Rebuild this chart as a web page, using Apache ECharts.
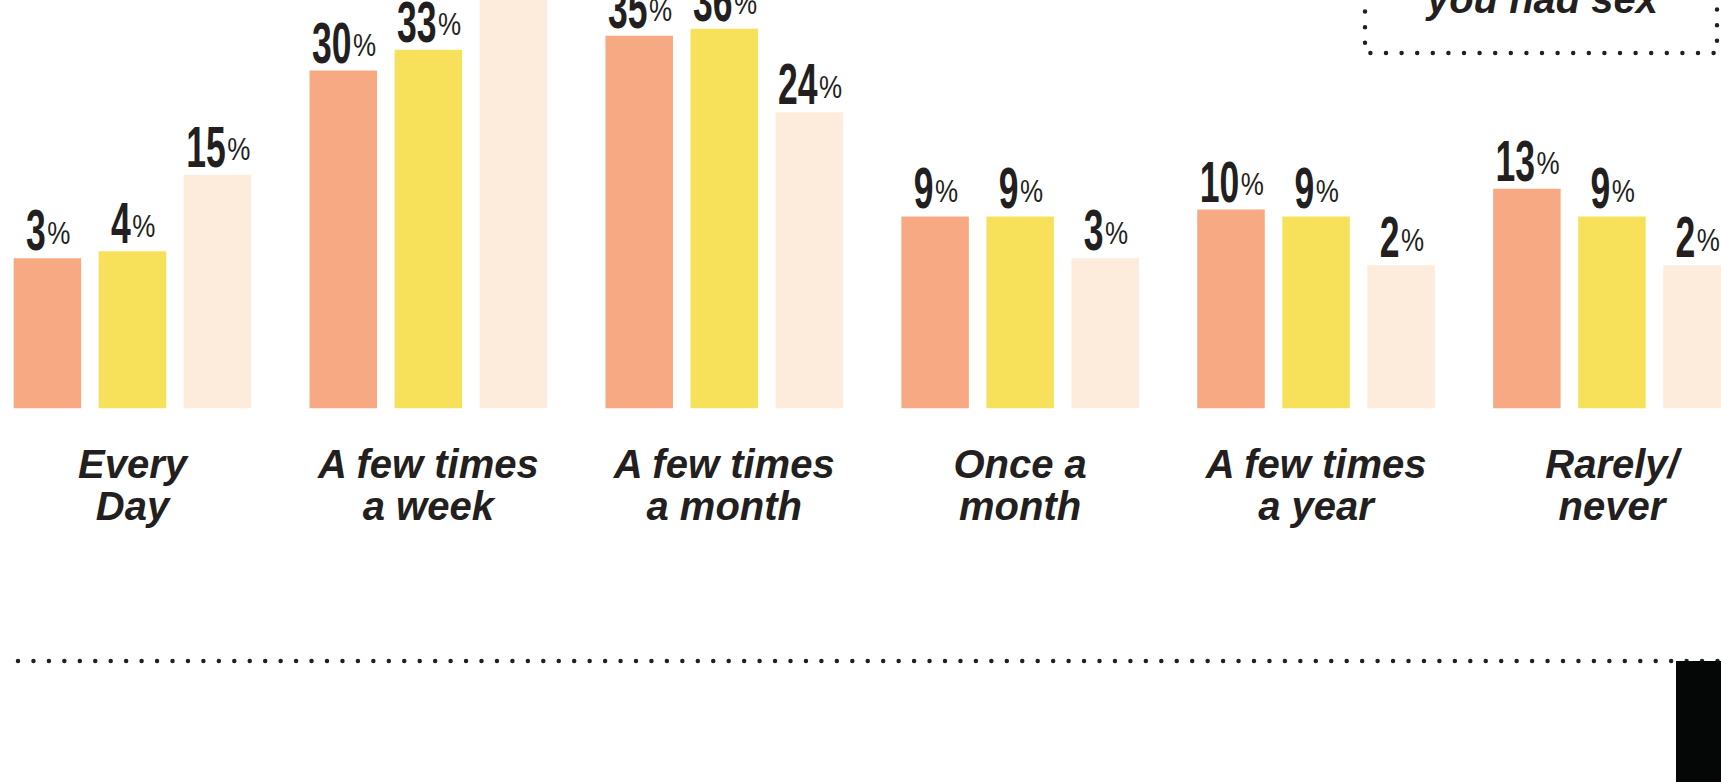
<!DOCTYPE html>
<html><head><meta charset="utf-8">
<script src="https://cdn.jsdelivr.net/npm/echarts@6/dist/echarts.min.js"></script>
<style>html,body{margin:0;padding:0;background:#fff}#c{width:1721px;height:782px}</style>
</head><body><div id="c"></div>
<script>
// ---- data ----
const categories = ['Every\nDay', 'A few times\na week', 'A few times\na month', 'Once a\nmonth', 'A few times\na year', 'Rarely/\nnever'];
const seriesNames = ['Group 1', 'Group 2', 'Group 3'];
const group1 = [3, 30, 35, 9, 10, 13];
const group2 = [4, 33, 36, 9, 9, 9];
const group3 = [15, 54, 24, 3, 2, 2];
const boxTitle = 'you had sex';

// ---- styling ----
const colors = ['#F7A983', '#F7E15B', '#FDEBDB'];
const ink = '#231F20';
const BASE = 18.6;        // the infographic's bars start from a visual floor
const Y_MAX = 58.75;
const BAR_W = 67.5;
const BAR_GAP = 0.26;
const numFont = "'Liberation Sans', Arial, Helvetica, sans-serif";
const txtFont = "'Liberation Sans', Arial, Helvetica, sans-serif";
const NUM_FS = 35.5, NUM_SY = 1.6, PCT_FS = 26, PCT_SY = 1.22;

const values = [group1, group2, group3];
const series = [];
values.forEach((arr, k) => {
  series.push({
    name: seriesNames[k] + ' base', type: 'bar', stack: 's' + k, silent: true,
    barWidth: BAR_W, barGap: (BAR_GAP * 100) + '%',
    itemStyle: { color: colors[k] },
    data: arr.map(() => BASE),
    label: { show: false }, emphasis: { disabled: true }
  });
  series.push({
    name: seriesNames[k], type: 'bar', stack: 's' + k,
    barWidth: BAR_W, barGap: (BAR_GAP * 100) + '%',
    itemStyle: { color: colors[k] },
    data: arr,
    emphasis: { disabled: true },
    label: { show: false }
  });
});
// value labels (tall condensed look) drawn through the axes
values.forEach((arr, k) => {
  series.push({
    name: seriesNames[k] + ' labels', type: 'custom', silent: true, z: 5,
    data: arr.map((v, i) => [i, v]),
    encode: { x: 0, y: 1 },
    renderItem: (params, api) => {
      const cat = api.value(0), v = api.value(1);
      const cx = api.coord([cat, 0])[0] + (k - 1) * BAR_W * (1 + BAR_GAP);
      const top = api.coord([cat, v + BASE])[1];
      const s = String(v);
      const wd = s.length * 0.556 * NUM_FS, wp = 0.889 * PCT_FS;
      const split = cx + (wd - wp) / 2;
      return {
        type: 'group',
        children: [
          { type: 'text', x: split, y: top + 1, scaleY: NUM_SY,
            style: { text: s, align: 'right', verticalAlign: 'bottom', fill: ink,
              font: 'bold ' + NUM_FS + 'px ' + numFont } },
          { type: 'text', x: split + 1.5, y: top - 9.5, scaleY: PCT_SY,
            style: { text: '%', align: 'left', verticalAlign: 'bottom', fill: ink,
              font: PCT_FS + 'px ' + numFont } }
        ]
      };
    }
  });
});

const chart = echarts.init(document.getElementById('c'), null, { renderer: 'svg' });
chart.setOption({
  backgroundColor: '#ffffff',
  animation: false,
  grid: { left: -15.5, right: -38.9, top: 0, bottom: 373.7, containLabel: false, outerBoundsMode: 'none' },
  xAxis: {
    type: 'category', data: categories,
    axisLine: { show: false }, axisTick: { show: false },
    axisLabel: {
      interval: 0, margin: 35, color: ink,
      fontFamily: txtFont, fontWeight: 'bold', fontStyle: 'italic',
      fontSize: 40, lineHeight: 42, align: 'center'
    }
  },
  yAxis: { type: 'value', min: 0, max: Y_MAX, show: false, splitLine: { show: false } },
  series: series,
  graphic: [
    { type: 'line', z: 10, shape: { x1: 18, y1: 661, x2: 1725, y2: 661 },
      style: { stroke: ink, lineWidth: 4.5, lineDash: [0, 15.45], lineCap: 'round' } },
    { type: 'rect', z: 11, shape: { x: 1676, y: 661, width: 60, height: 140 },
      style: { fill: '#050606' } },
    { type: 'rect', z: 10, shape: { x: 1365, y: -200, width: 352, height: 253 },
      style: { fill: 'none', stroke: ink, lineWidth: 4.5, lineDash: [0, 15.6], lineCap: 'round' } },
    { type: 'text', z: 10, x: 1542.5, y: -1.5,
      style: { text: boxTitle, fill: ink, font: "italic bold 40px " + txtFont, align: 'center', verticalAlign: 'middle' } }
  ]
});
</script></body></html>
